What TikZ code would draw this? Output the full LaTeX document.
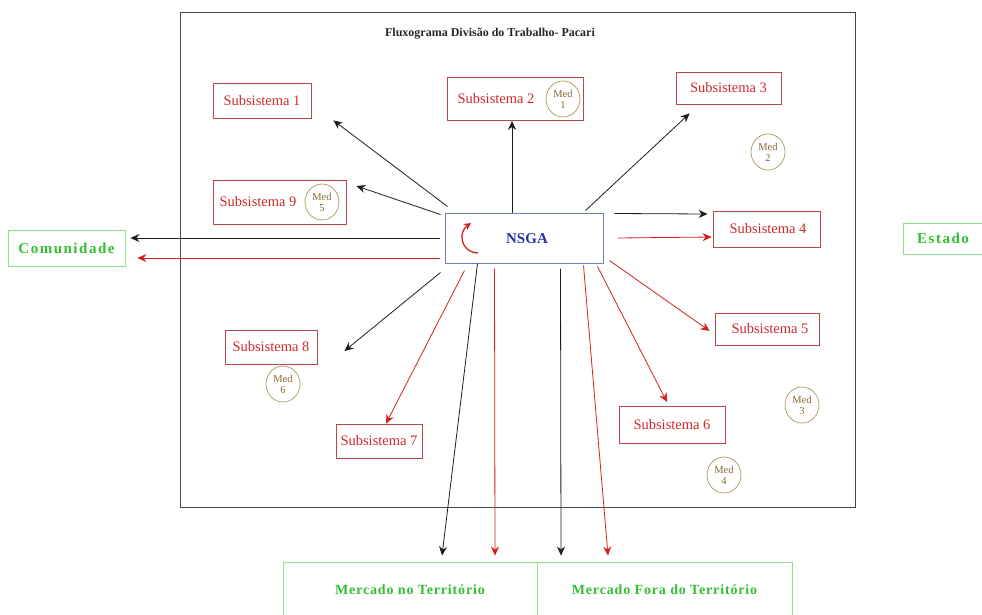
\documentclass[tikz,border=0pt]{standalone}
\usepackage{fontspec}
\setmainfont{Liberation Serif}
\newfontfamily\widefont[LetterSpace=6]{Liberation Serif}
\newfontfamily\widerfont[LetterSpace=10]{Liberation Serif}
\usetikzlibrary{arrows.meta,calc,shapes.geometric}

\definecolor{framegray}{HTML}{4A4A4A}
\definecolor{boxred}{HTML}{B84848}
\definecolor{textred}{HTML}{D02A2A}
\definecolor{medline}{HTML}{A89858}
\definecolor{medtext}{HTML}{8A6A30}
\definecolor{boxgreen}{HTML}{90E090}
\definecolor{textgreen}{HTML}{30C030}
\definecolor{boxblue}{HTML}{7080B8}
\definecolor{textblue}{HTML}{2434A8}
\definecolor{arrred}{HTML}{D42020}
\definecolor{arrblack}{HTML}{1E1E1E}

\tikzset{
  subbox/.style={draw=boxred, line width=0.8pt, rectangle, inner sep=0pt},
  subtext/.style={text=textred, font=\fontsize{14.5}{16}\selectfont, inner sep=0pt},
  medc/.style={draw=medline, line width=0.7pt, ellipse, minimum width=34pt, minimum height=36pt, inner sep=0pt,
    text=medtext, font=\fontsize{10.5}{11}\selectfont, align=center},
  greenbox/.style={draw=boxgreen, line width=0.9pt, rectangle, inner sep=0pt,
    text=textgreen, font=\widefont\bfseries\fontsize{14}{16}\selectfont},
  blk/.style={draw=arrblack, line width=0.8pt, -{Stealth[length=9pt,width=8pt]}},
  redarr/.style={draw=arrred, line width=0.8pt, -{Stealth[length=9pt,width=8pt]}},
}

\begin{document}
\begin{tikzpicture}[x=1pt,y=-1pt]
\useasboundingbox (0,0) rectangle (982,614);
\fill[white] (0,0) rectangle (982,614);

% outer frame and title
\node[draw=framegray, line width=1pt, minimum width=675pt, minimum height=495pt, inner sep=0pt] (frame) at (518,260) {};
\node[font=\bfseries\fontsize{12}{14}\selectfont, text=black!85] (title) at (490,34) {Fluxograma Divisão do Trabalho- Pacari};

% central unit
\node[draw=boxblue, line width=1pt, minimum width=158pt, minimum height=50pt, inner sep=0pt] (nsga) at (524,238) {};
\node[text=textblue, font=\bfseries\fontsize{15}{16}\selectfont] (nsgat) at (527,239) {NSGA};
\coordinate (cs) at (478,253);
\coordinate (ce) at (471,223);
\draw[arrred, line width=1.3pt, -{Stealth[length=7pt,width=7pt]}] (cs) .. controls (460,252) and (458,232) .. (ce);

% subsystems
\node[subbox, minimum width=98pt, minimum height=35pt] (s1) at (262,100.5) {};
\node[subtext] (s1t) at (262,100.5) {Subsistema 1};

\node[subbox, minimum width=136pt, minimum height=43pt] (s2) at (515,99) {};
\node[subtext] (s2t) at (496,99) {Subsistema 2};
\node[medc] (m1) at (563,99) {Med\\1};

\node[subbox, minimum width=105pt, minimum height=32pt] (s3) at (728.5,88) {};
\node[subtext] (s3t) at (728.5,88) {Subsistema 3};

\node[subbox, minimum width=107pt, minimum height=36pt] (s4) at (766.5,229) {};
\node[subtext] (s4t) at (768,229) {Subsistema 4};

\node[subbox, minimum width=104pt, minimum height=32pt] (s5) at (767,329) {};
\node[subtext] (s5t) at (770,329) {Subsistema 5};

\node[subbox, minimum width=106pt, minimum height=37pt] (s6) at (672,425) {};
\node[subtext] (s6t) at (672,425) {Subsistema 6};

\node[subbox, minimum width=86pt, minimum height=34pt] (s7) at (379,441) {};
\node[subtext] (s7t) at (379,441) {Subsistema 7};

\node[subbox, minimum width=92pt, minimum height=34pt] (s8) at (271,347) {};
\node[subtext] (s8t) at (271,347) {Subsistema 8};

\node[subbox, minimum width=133pt, minimum height=44pt] (s9) at (279.5,202) {};
\node[subtext] (s9t) at (258,202) {Subsistema 9};
\node[medc] (m5) at (322,202) {Med\\5};

% mediators
\node[medc] (m2) at (768,152) {Med\\2};
\node[medc] (m3) at (802,405) {Med\\3};
\node[medc] (m4) at (724,475) {Med\\4};
\node[medc] (m6) at (283,384) {Med\\6};

% outside actors
\node[greenbox, font=\widerfont\bfseries\fontsize{15}{16}\selectfont, minimum width=117pt, minimum height=36pt] (com) at (66.5,248) {Comunidade};
\node[greenbox, font=\widerfont\bfseries\fontsize{15}{16}\selectfont, minimum width=80pt, minimum height=31pt] (est) at (943,238.5) {Estado};
\node[greenbox, minimum width=254pt, minimum height=56pt] (mno) at (410,590) {Mercado no Território};
\node[greenbox, minimum width=255pt, minimum height=56pt] (mfo) at (664.5,590) {Mercado Fora do Território};

% connectors
\draw[blk] ($(nsga.north west)+(3,-6)$) -- ($(s1.south east)+(22,2)$);
\draw[blk] (nsga.north -| 512,0) -- (s2.south -| 512,0);
\draw[blk] ($(nsga.north east)+(-18,-2)$) -- ($(s3.south west)+(14,9)$);
\draw[blk] ($(nsga.north west)+(-4,2)$) -- ($(s9.east)+(10,-16)$);

\draw[blk] ($(nsga.west)+(-5,0)$) -- ($(com.east)+(5,-10)$);
\draw[redarr] ($(nsga.west)+(-5,20)$) -- ($(com.east)+(12,10)$);

\draw[blk] ($(nsga.north east)+(11,1)$) -- ($(s4.west)+(-5,-15)$);
\draw[redarr] ($(nsga.east)+(14,0)$) -- ($(s4.west)+(-1,8)$);

\draw[redarr] ($(nsga.south east)+(6,-3)$) -- ($(s5.west)+(-5,2)$);
\draw[redarr] ($(nsga.south east)+(-6,3)$) -- ($(s6.north)+(-5,-4)$);
\draw[blk] ($(nsga.south west)+(-4,9)$) -- ($(s8.east)+(27,4)$);
\draw[redarr] ($(nsga.south west)+(20,7)$) -- ($(s7.north)+(7,0)$);

\draw[blk] ($(nsga.south west)+(33,0)$) -- ($(mno.north)+(32,-6)$);
\draw[redarr] ($(nsga.south west)+(50,5)$) -- ($(mno.north)+(85,-6)$);
\draw[blk] ($(nsga.south east)+(-43,5)$) -- ($(mfo.north)+(-103.5,-6)$);
\draw[redarr] ($(nsga.south east)+(-20,2)$) -- ($(mfo.north)+(-56.5,-6)$);
\end{tikzpicture}
\end{document}
